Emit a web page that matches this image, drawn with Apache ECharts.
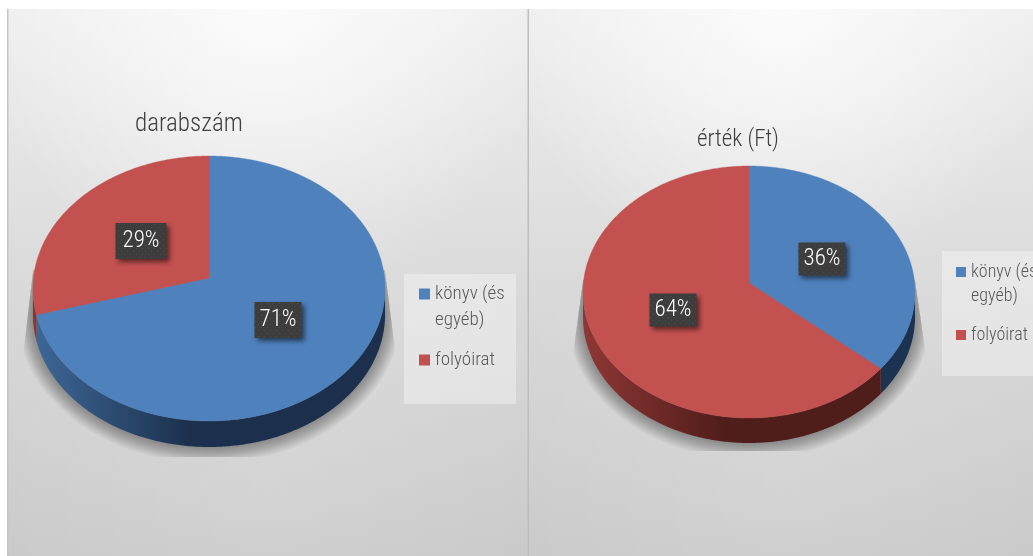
<!DOCTYPE html>
<html><head><meta charset="utf-8">
<style>html,body{margin:0;padding:0;background:#fff;overflow:hidden}#c{width:1033px;height:556px}</style>
<script src="https://cdn.jsdelivr.net/npm/echarts@6/dist/echarts.min.js"></script>
</head><body><div id="c"></div>
<script>
const categories = ['könyv (és egyéb)', 'folyóirat'];
const countValues = [70.6, 29.4];
const amountValues = [36.3, 63.7];
const titles = ['darabszám', 'érték (Ft)'];

const FONT = '"Roboto Condensed"';
const TOP = ['#4f81bd', '#c35150'];
const pies = [
  {cx:209, ay:278, rx:175.5, T:122, B:143, d:26, vals:countValues,
   clip:[[33,270],[385,270],[397,365],[397,457],[22,457],[22,365]],
   wall:[[{x:36,c:'#3d6796'},{x:190,c:'#1c304d'}],[{x:36,c:'#8c3432'},{x:60,c:'#7a2d2b'}]],
   boxW:[47,51], boxH:36, nudge:[[-3,1],[0,2]]},
  {cx:749, ay:283, rx:165.6, T:117, B:135, d:25, vals:amountValues,
   clip:[[583,280],[915,280],[927,362],[927,451],[572,451],[572,362]],
   wall:[[{x:880,c:'#1b3350'},{x:915,c:'#1b3350'}],[{x:583,c:'#8f3735'},{x:725,c:'#4f1d1a'}]],
   boxW:[47,47], boxH:33, nudge:[[-1,2],[0,0]]}
];
function projector(p){
  const b=(p.B-p.T)/(p.B+p.T), a=p.T*(1+b);
  return {b, at(theta,r=1){
    const u=r*Math.sin(theta), v=-r*Math.cos(theta), k=1-b*v;
    return [p.cx+p.rx*u/k, p.ay+a*v/k];
  }};
}
function arc(pr,t0,t1){
  const n=Math.max(2,Math.ceil(Math.abs(t1-t0)/0.01)),pts=[];
  for(let i=0;i<=n;i++)pts.push(pr.at(t0+(t1-t0)*i/n));
  return pts;
}
function dotPattern(){
  const c=document.createElement('canvas');c.width=c.height=6;
  const g=c.getContext('2d');g.fillStyle='#3d3d3d';g.fillRect(0,0,6,6);
  g.fillStyle='#4b4b4b';g.fillRect(1,1,1,1);g.fillRect(4,4,1,1);
  return c;
}
const pattern=dotPattern();

function sliceSeries(pi,ci){
  const p=pies[pi], pr=projector(p);
  return {
    type:'custom', name:categories[ci], coordinateSystem:'none', z:2,
    color:TOP[ci], itemStyle:{color:TOP[ci]}, silent:true,
    data:[[p.vals[ci]]],
    renderItem(params,api){
      const val=api.value(0), total=p.vals[0]+p.vals[1];
      const before=ci===0?0:p.vals[0];
      const t0=before/total*2*Math.PI, t1=(before+val)/total*2*Math.PI;
      const lo=Math.PI/2+Math.asin(pr.b), hi=1.5*Math.PI-Math.asin(pr.b);
      const children=[];
      const w0=Math.max(t0,lo), w1=Math.min(t1,hi);
      if(w1>w0){
        const e=arc(pr,w0,w1), low=e.slice().reverse().map(q=>[q[0],q[1]+p.d]);
        const g=p.wall[ci];
        children.push({type:'polygon',shape:{points:e.concat(low)},style:{
          fill:{type:'linear',x:g[0].x,y:0,x2:g[1].x,y2:0,global:true,
            colorStops:[{offset:0,color:g[0].c},{offset:1,color:g[1].c}]}},z2:1});
      }
      const top=[[p.cx,p.ay]].concat(arc(pr,t0,t1));
      children.push({type:'polygon',shape:{points:top},style:{fill:TOP[ci],stroke:TOP[ci],lineWidth:.4},z2:2});
      return {type:'group',children};
    }
  };
}
function labelSeries(pi){
  const p=pies[pi], pr=projector(p), total=p.vals[0]+p.vals[1];
  return {
    type:'custom', name:'címkék'+pi, coordinateSystem:'none', z:5, silent:true,
    data:p.vals.map(v=>[v]),
    renderItem(params,api){
      const i=params.dataIndex, val=api.value(0);
      const before=i===0?0:p.vals[0];
      const mid=(before+val/2)/total*2*Math.PI;
      const [x,y]=pr.at(mid,0.5);
      const w=p.boxW[i], h=p.boxH, n=p.nudge[i];
      return {type:'group',x:Math.round(x)+n[0],y:Math.round(y)+n[1],children:[
        {type:'rect',shape:{x:-w/2,y:-h/2,width:w,height:h},
         style:{fill:{image:pattern,repeat:'repeat'},shadowBlur:5,shadowOffsetX:3,shadowOffsetY:3,shadowColor:'rgba(0,0,0,.55)'}},
        {type:'text',style:{text:Math.round(val/total*100)+'%',x:0,y:0,align:'center',verticalAlign:'middle',
          fill:'#fff',font:'300 23px '+FONT}}
      ]};
    }
  };
}
function shadowSeries(pi){
  const p=pies[pi];
  return {
    type:'custom', name:'árnyék'+pi, coordinateSystem:'none', z:1, silent:true,
    data:[[0]],
    renderItem(){
      const layers=[];
      for(let k=16;k>=0;k--){
        const pr=projector({...p,rx:p.rx+k,T:p.T+k,B:p.B+k});
        const e=arc(pr,0,2*Math.PI).map(q=>[q[0],q[1]+p.d]);
        layers.push({type:'polygon',shape:{points:e},style:{fill:'rgba(0,0,0,.024)'}});
      }
      return {type:'group',clipPath:{type:'polygon',shape:{points:p.clip}},children:layers};
    }
  };
}
const panelBase={type:'linear',x:0,y:0,x2:0,y2:1,colorStops:[
  {offset:0,color:'#efefef'},{offset:.5,color:'#dadada'},{offset:1,color:'#c9c9c9'}]};
const panelGlow={type:'radial',x:.5,y:0,r:.55,colorStops:[
  {offset:0,color:'rgba(255,255,255,.8)'},{offset:1,color:'rgba(255,255,255,0)'}]};
const panelLow={type:'radial',x:.5,y:.85,r:.6,colorStops:[
  {offset:0,color:'rgba(255,255,255,.14)'},{offset:1,color:'rgba(255,255,255,0)'}]};
function legendFor(left,top,gap,size,lh,icon){
  return {left,top,orient:'vertical',selectedMode:false,data:categories,itemWidth:icon,itemHeight:icon,
    itemGap:gap,icon:'rect',padding:0,
    formatter:n=>n===categories[0]?' \nkönyv (és\negyéb)':n,
    textStyle:{color:'#595959',fontFamily:FONT,fontWeight:300,fontSize:size,lineHeight:lh}};
}
function panel(x,w){
  return [
    {type:'rect',z:-5,silent:true,shape:{x,y:9,width:w,height:547},style:{fill:panelBase}},
    {type:'rect',z:-5,silent:true,shape:{x,y:9,width:w,height:547},style:{fill:panelGlow}},
    {type:'rect',z:-5,silent:true,shape:{x,y:9,width:w,height:547},style:{fill:panelLow}}
  ];
}
const chart=echarts.init(document.getElementById('c'),null,{renderer:'canvas',width:1033,height:556});
chart.setOption({
  animation:false, backgroundColor:'#fff',
  title:[
    {text:titles[0],left:135,top:112,padding:0,textStyle:{fontFamily:FONT,fontSize:25,fontWeight:300,color:'#404040'}},
    {text:titles[1],left:697,top:129,padding:0,textStyle:{fontFamily:FONT,fontSize:23,fontWeight:300,color:'#404040'}}
  ],
  legend:[legendFor(419,255,14,19,26,11),legendFor(956,236,15,18,24,10)],
  graphic:[...panel(7,521),...panel(529,504),
    {type:'rect',z:-4,silent:true,shape:{x:7,y:9,width:1.5,height:547},style:{fill:'#c4c4c4'}},
    {type:'rect',z:-4,silent:true,shape:{x:527.5,y:9,width:1.5,height:547},style:{fill:'#bdbdbd'}},
    {type:'rect',z:0,silent:true,shape:{x:404,y:274,width:112,height:130},style:{fill:'rgba(255,255,255,.35)'}},
    {type:'rect',z:0,silent:true,shape:{x:942,y:251,width:91,height:125},style:{fill:'rgba(255,255,255,.35)'}}
  ],
  series:[shadowSeries(0),shadowSeries(1),
    sliceSeries(0,0),sliceSeries(0,1),sliceSeries(1,0),sliceSeries(1,1),
    labelSeries(0),labelSeries(1)]
});
</script></body></html>
